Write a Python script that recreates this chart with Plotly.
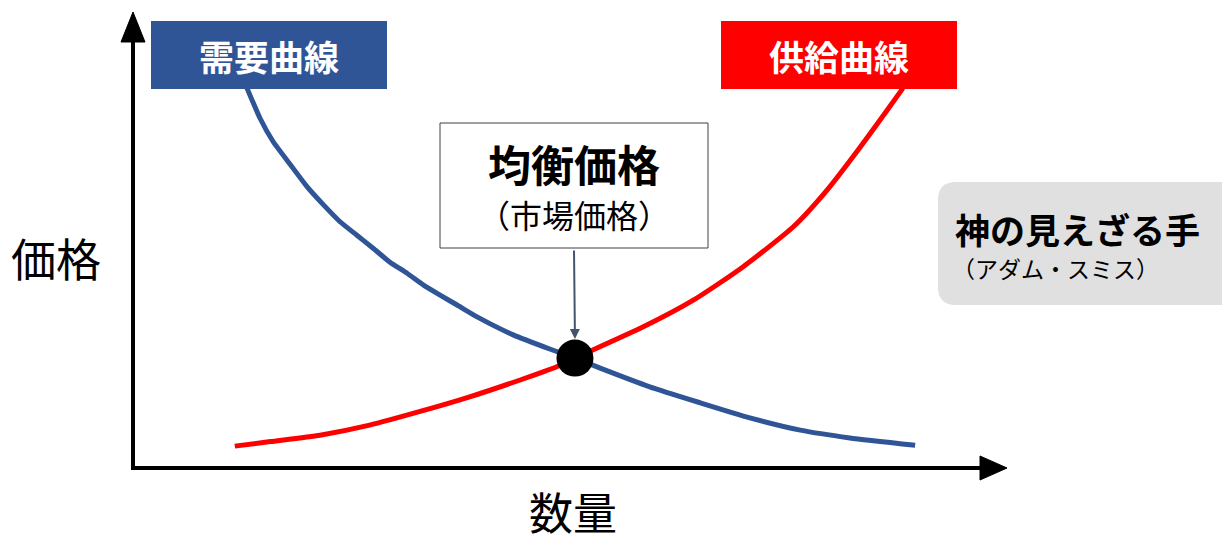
import plotly.graph_objects as go

# ---- data (quantity / price, 0-100 scale) ----
demand_q = [13.1, 14.6, 16.1, 18.1, 20.0, 21.9, 23.8, 25.7, 27.6, 29.5, 31.5, 33.4, 35.3,
            37.2, 39.5, 43.7, 47.9, 50.8, 53.7, 59.4, 65.2, 70.9, 76.7, 82.4, 89.9]
demand_p = [83.3, 76.7, 71.6, 66.5, 61.7, 57.7, 54.0, 51.1, 48.2, 45.2, 42.7, 40.1, 37.9,
            35.8, 33.2, 29.2, 26.1, 24.1, 21.9, 17.8, 14.3, 11.0, 8.3, 6.6, 5.0]
supply_q = [11.7, 15.8, 21.5, 27.2, 33.0, 38.7, 44.5, 48.7, 50.8, 58.6, 64.4, 70.1, 75.9,
            79.8, 83.6, 86.7, 88.5]
supply_p = [4.8, 5.8, 7.2, 9.4, 12.4, 15.6, 19.3, 22.2, 24.1, 30.9, 36.8, 44.1, 52.9,
            61.0, 70.4, 78.5, 83.3]
eq_q = [50.8]
eq_p = [24.1]

# screen layout (the page body adds an 8px offset)
OFF = 8
W, H = 1230 - OFF, 540 - OFF
X0, Y0 = 133, 468       # origin, screen pixels
SX, SY = 8.7, 4.56      # pixels per unit


def qx(px):
    return (px - X0) / SX


def py_(py):
    return (Y0 - py) / SY


FONT = "Noto Sans CJK JP"
BLUE = "#2F5597"
RED = "#FF0000"

fig = go.Figure()
fig.add_trace(go.Scatter(x=demand_q, y=demand_p, mode="lines",
                         line=dict(color=BLUE, width=5, shape="spline", smoothing=0.5),
                         hoverinfo="skip", showlegend=False))
fig.add_trace(go.Scatter(x=supply_q, y=supply_p, mode="lines",
                         line=dict(color=RED, width=5, shape="spline", smoothing=0.6),
                         hoverinfo="skip", showlegend=False))
fig.add_trace(go.Scatter(x=eq_q, y=eq_p, mode="markers",
                         marker=dict(color="black", size=37),
                         hoverinfo="skip", showlegend=False))

shapes = []
# axes
shapes.append(dict(type="line", x0=qx(X0), y0=py_(Y0 + 2), x1=qx(X0), y1=py_(40),
                   line=dict(color="black", width=4)))
shapes.append(dict(type="path",
                   path=f"M {qx(121)},{py_(42)} L {qx(145)},{py_(42)} L {qx(133)},{py_(12)} Z",
                   fillcolor="black", line=dict(color="black", width=1)))
shapes.append(dict(type="line", x0=qx(X0 - 2), y0=py_(Y0), x1=qx(982), y1=py_(Y0),
                   line=dict(color="black", width=4)))
shapes.append(dict(type="path",
                   path=f"M {qx(980)},{py_(456)} L {qx(980)},{py_(480)} L {qx(1007)},{py_(468)} Z",
                   fillcolor="black", line=dict(color="black", width=1)))
# label boxes
shapes.append(dict(type="rect", x0=qx(151), x1=qx(387), y0=py_(21), y1=py_(89),
                   fillcolor=BLUE, line=dict(width=0), layer="above"))
shapes.append(dict(type="rect", x0=qx(721), x1=qx(957), y0=py_(21), y1=py_(89),
                   fillcolor=RED, line=dict(width=0), layer="above"))
shapes.append(dict(type="rect", x0=qx(440), x1=qx(708), y0=py_(123), y1=py_(248),
                   fillcolor="white", line=dict(color="#404040", width=1), layer="above"))
# rounded gray box
r = 18
gx0, gx1, gy0, gy1 = 938, 1240, 182, 305
path = (f"M {qx(gx0 + r)},{py_(gy0)} L {qx(gx1)},{py_(gy0)} L {qx(gx1)},{py_(gy1)} "
        f"L {qx(gx0 + r)},{py_(gy1)} Q {qx(gx0)},{py_(gy1)} {qx(gx0)},{py_(gy1 - r)} "
        f"L {qx(gx0)},{py_(gy0 + r)} Q {qx(gx0)},{py_(gy0)} {qx(gx0 + r)},{py_(gy0)} Z")
shapes.append(dict(type="path", path=path, fillcolor="#E0E0E0", line=dict(width=0)))

annotations = [
    dict(x=qx(269), y=py_(55), text="<b>需要曲線</b>", showarrow=False,
         font=dict(family=FONT, size=35, color="white")),
    dict(x=qx(839), y=py_(55), text="<b>供給曲線</b>", showarrow=False,
         font=dict(family=FONT, size=35, color="white")),
    dict(x=qx(574), y=py_(163), text="<b>均衡価格</b>", showarrow=False,
         font=dict(family=FONT, size=43, color="black")),
    dict(x=qx(574), y=py_(214), text="（市場価格）", showarrow=False,
         font=dict(family=FONT, size=32, color="black")),
    dict(x=eq_q[0], y=py_(339), ax=qx(574), ay=py_(249), axref="x", ayref="y",
         xref="x", yref="y", text="", showarrow=True, arrowhead=2, arrowsize=1,
         arrowwidth=2, arrowcolor="#44546A"),
    dict(x=qx(953), y=py_(228), text="<b>神の見えざる手</b>", showarrow=False, xanchor="left",
         font=dict(family=FONT, size=35, color="black")),
    dict(x=qx(950), y=py_(268), text="（アダム・スミス）", showarrow=False, xanchor="left",
         font=dict(family=FONT, size=23, color="black")),
    dict(x=qx(56), y=py_(257), text="価格", showarrow=False,
         font=dict(family=FONT, size=45, color="black")),
    dict(x=qx(573), y=py_(511), text="数量", showarrow=False,
         font=dict(family=FONT, size=44, color="black")),
]

fig.update_layout(
    width=W, height=H, margin=dict(l=0, r=0, t=0, b=0),
    paper_bgcolor="white", plot_bgcolor="white",
    xaxis=dict(range=[qx(OFF), qx(1230)], visible=False, fixedrange=True),
    yaxis=dict(range=[py_(540), py_(OFF)], visible=False, fixedrange=True),
    shapes=shapes, annotations=annotations, showlegend=False,
)
fig.write_html("out.html")
